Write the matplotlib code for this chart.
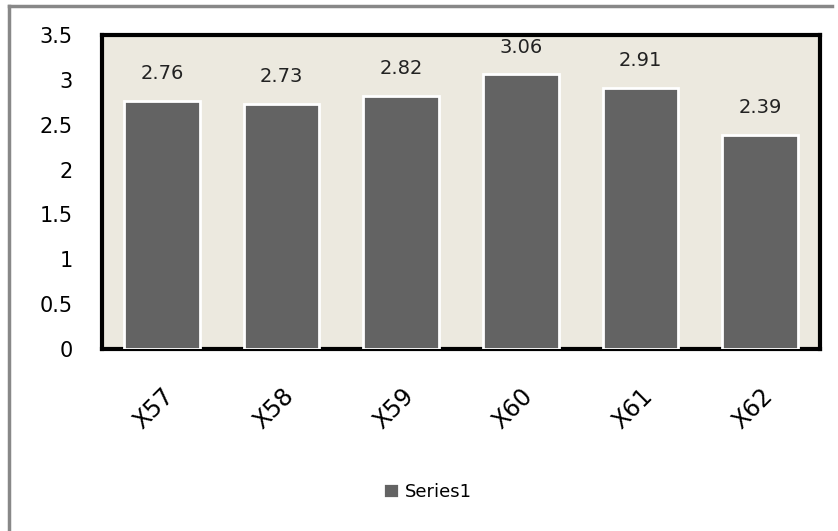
import matplotlib.pyplot as plt
from matplotlib.lines import Line2D

categories = ['X57', 'X58', 'X59', 'X60', 'X61', 'X62']
values = [2.76, 2.73, 2.82, 3.06, 2.91, 2.39]
yticks = [0, 0.5, 1, 1.5, 2, 2.5, 3, 3.5]
ytick_labels = ['0', '0.5', '1', '1.5', '2', '2.5', '3', '3.5']

fig = plt.figure(figsize=(8.38, 5.31), dpi=100)
ax = fig.add_axes([102 / 838, 1 - 349 / 531, 718 / 838, 314 / 531])
ax.set_facecolor('#ECE9DF')

x = range(len(categories))
bars = ax.bar(x, values, width=0.63, color='#636363', edgecolor='white',
              linewidth=2, label='Series1', zorder=3)

for xi, v in zip(x, values):
    ax.text(xi, v + 0.2, f'{v:.2f}', ha='center', va='bottom', fontsize=14,
            color='#222222')

ax.set_xlim(-0.5, len(categories) - 0.5)
ax.set_ylim(0, 3.5)
ax.set_yticks(yticks)
ax.set_yticklabels(ytick_labels, fontsize=15)
ax.set_xticks(list(x))
ax.set_xticklabels(categories, fontsize=17, rotation=45, ha='right',
                   rotation_mode='anchor')
ax.tick_params(axis='both', length=0)
ax.tick_params(axis='y', pad=21)
ax.tick_params(axis='x', pad=25)

for s in ax.spines.values():
    s.set_color('black')
    s.set_linewidth(3)

fig.legend(handles=[bars], labels=['Series1'], loc='center',
           bbox_to_anchor=(0.51, 1 - 492 / 531), frameon=False, fontsize=13,
           handlelength=0.9, handleheight=0.9, handletextpad=0.35)

# outer chart frame (only left and top edges visible)
fig.add_artist(Line2D([9 / 838, 9 / 838], [0, 1 - 6 / 531],
                      transform=fig.transFigure, color='#888888', lw=2.5))
fig.add_artist(Line2D([9 / 838, 832 / 838], [1 - 6 / 531, 1 - 6 / 531],
                      transform=fig.transFigure, color='#888888', lw=2.5))

fig.savefig('out.png', dpi=100)
